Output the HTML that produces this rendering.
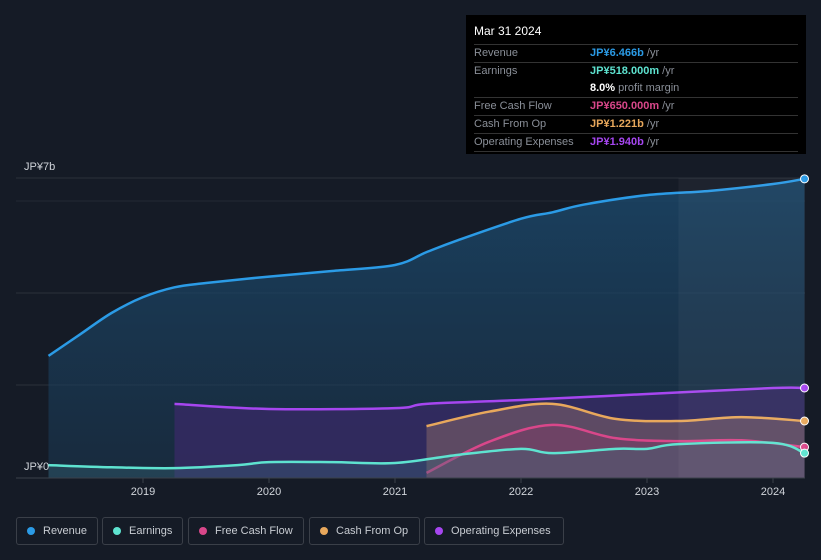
<!DOCTYPE html>
<html><head><meta charset="utf-8">
<style>
body{margin:0;background:#151b26;width:821px;height:560px;overflow:hidden;font-family:"Liberation Sans",sans-serif;}
#tt{position:absolute;left:466px;top:15px;width:340px;height:139px;background:#000;box-sizing:border-box;padding:9px 8px 0 8px;font-size:11px;color:#8a8f98}
#tt .h{color:#fff;font-size:12px;margin-bottom:6px}
#tt .r{border-top:1px solid #333;height:17px;line-height:17px;display:flex}
#tt .r span:first-child{width:116px}
#tt b{font-weight:bold}
.leg{position:absolute;top:517px;height:28px;border:1px solid #3a3f48;border-radius:3px;box-sizing:border-box;color:#c8ccd2;font-size:11px;line-height:26px;padding-left:26px}
.leg i{position:absolute;left:10px;top:9px;width:8px;height:8px;border-radius:50%}
</style></head><body>
<svg id="ch" width="821" height="560" style="position:absolute;left:0;top:0"></svg>
<div id="tt">
<div class="h">Mar 31 2024</div>
<div class="r"><span>Revenue</span><span><b style="color:#2b9be6">JP¥6.466b</b> /yr</span></div>
<div class="r"><span>Earnings</span><span><b style="color:#5ee3d0">JP¥518.000m</b> /yr</span></div>
<div class="r" style="border-top:none"><span></span><span><b style="color:#fff">8.0%</b> profit margin</span></div>
<div class="r"><span>Free Cash Flow</span><span><b style="color:#d9478a">JP¥650.000m</b> /yr</span></div>
<div class="r"><span>Cash From Op</span><span><b style="color:#e8a85c">JP¥1.221b</b> /yr</span></div>
<div class="r"><span>Operating Expenses</span><span><b style="color:#a646f0">JP¥1.940b</b> /yr</span></div>
<div class="r"></div>
</div>
<div class="leg" style="left:16px;width:82px"><i style="background:#2b9be6"></i>Revenue</div>
<div class="leg" style="left:102px;width:81px"><i style="background:#5ee3d0"></i>Earnings</div>
<div class="leg" style="left:188px;width:116px"><i style="background:#d9478a"></i>Free Cash Flow</div>
<div class="leg" style="left:309px;width:111px"><i style="background:#e8a85c"></i>Cash From Op</div>
<div class="leg" style="left:424px;width:140px"><i style="background:#a646f0"></i>Operating Expenses</div>
<script>
const revT=[2018.25,2018.5,2018.75,2019,2019.25,2019.5,2020,2020.5,2021,2021.25,2021.5,2022,2022.25,2022.5,2023,2023.5,2024,2024.25];
const revV=[2.85,3.35,3.85,4.22,4.45,4.55,4.7,4.83,4.97,5.27,5.55,6.05,6.2,6.38,6.6,6.7,6.86,6.98];
const earT=[2018.25,2018.75,2019.25,2019.75,2020,2020.5,2021,2021.5,2022,2022.25,2022.75,2023,2023.25,2024,2024.25];
const earV=[0.30,0.25,0.23,0.30,0.37,0.37,0.35,0.54,0.68,0.58,0.68,0.68,0.79,0.82,0.58];
const fcfT=[2021.25,2021.75,2022.25,2022.75,2023.25,2023.75,2024.25];
const fcfV=[0.12,0.85,1.24,0.93,0.86,0.88,0.72];
const cfoT=[2021.25,2021.75,2022.25,2022.75,2023.25,2023.75,2024.25];
const cfoV=[1.21,1.55,1.73,1.38,1.33,1.42,1.33];
const opxT=[2019.25,2020,2021,2021.25,2022,2023,2024,2024.25];
const opxV=[1.73,1.61,1.63,1.73,1.82,1.96,2.1,2.1];
const xTicks=[2019,2020,2021,2022,2023,2024];
const X=t=>143+(t-2019)*126, Y=v=>478-v*300/7;
const svg=document.getElementById('ch'),NS='http://www.w3.org/2000/svg';
function el(tag,a,p){const e=document.createElementNS(NS,tag);for(const k in a)e.setAttribute(k,a[k]);(p||svg).appendChild(e);return e;}
function path(T,V){const P=T.map((t,i)=>[X(t),Y(V[i])]);let d='M'+P[0];for(let i=0;i<P.length-1;i++){const p0=P[i-1]||P[i],p1=P[i],p2=P[i+1],p3=P[i+2]||p2;d+=`C${p1[0]+(p2[0]-p0[0])/6},${p1[1]+(p2[1]-p0[1])/6} ${p2[0]-(p3[0]-p1[0])/6},${p2[1]-(p3[1]-p1[1])/6} ${p2[0]},${p2[1]}`;}return d;}
const defs=el('defs',{});
const g=el('linearGradient',{id:'rg',x1:0,y1:0,x2:0,y2:1},defs);
el('stop',{offset:0,'stop-color':'#1b4a6e','stop-opacity':0.8},g);el('stop',{offset:1,'stop-color':'#1b3a55','stop-opacity':0.5},g);
[178,293,385].forEach(y=>{const l=el('line',{x1:16,x2:805,y1:y,y2:y,stroke:'#2a303b'});});
el('line',{x1:16,x2:805,y1:201,y2:201,stroke:'#222834'});
const series=[[revT,revV,'#2b9be6','url(#rg)',1,'revenue'],[opxT,opxV,'#a646f0','#3b2a6a',0.7,'operating-expenses'],[cfoT,cfoV,'#e8a85c','#8a6a6a',0.5,'cash-from-op'],[fcfT,fcfV,'#d9478a','#8a3a6a',0.4,'free-cash-flow'],[earT,earV,'#5ee3d0','#3a6a7a',0.35,'earnings']];
series.forEach(([T,V,c,f,o,n])=>{const d=path(T,V);
const a=el('path',{d:d+`L${X(T[T.length-1])},478L${X(T[0])},478Z`,fill:f,'fill-opacity':o});
const l=el('path',{d,fill:'none',stroke:c,'stroke-width':2.5});
const dt=el('circle',{cx:X(T[T.length-1]),cy:Y(V[V.length-1]),r:4,fill:c,stroke:'#fff','stroke-width':1});});
const fr=el('rect',{x:X(2023.25),y:178,width:805-X(2023.25),height:300,fill:'#ffffff','fill-opacity':0.04});
el('line',{x1:16,x2:805,y1:478,y2:478,stroke:'#3a404a'});
xTicks.forEach(t=>{el('line',{x1:X(t),x2:X(t),y1:478,y2:483,stroke:'#3a404a'});const tx=el('text',{x:X(t),y:495,fill:'#d0d4da','font-size':11,'text-anchor':'middle'});tx.textContent=t;});
const y1=el('text',{x:24,y:170,fill:'#d0d4da','font-size':11});y1.textContent='JP¥7b';
const y0=el('text',{x:24,y:470,fill:'#d0d4da','font-size':11});y0.textContent='JP¥0';
</script>
</body></html>
